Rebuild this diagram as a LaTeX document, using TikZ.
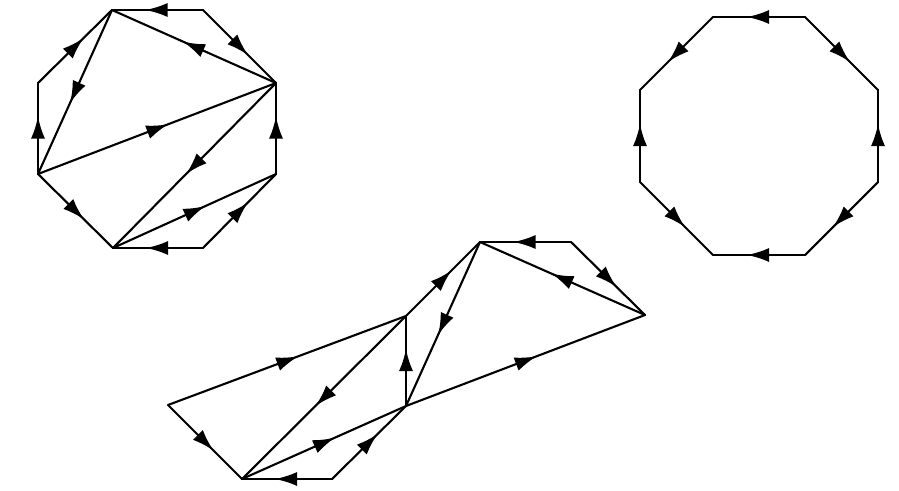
\documentclass[tikz,border=0pt]{standalone}
\usetikzlibrary{decorations.markings,arrows.meta}
\tikzset{
  marked/.style={postaction={decorate},decoration={markings,
    mark=at position 0.5 with {\arrow[xshift=12pt]{Latex[length=22pt,width=14pt]}}}}
}
\begin{document}
\begin{tikzpicture}[x=1pt,y=-1pt,line width=2.1pt,line cap=round,line join=round]
    \useasboundingbox (0,0) rectangle (899,490);
    % left octagon with its diagonals
    \path (112,10)  coordinate (a1) (203,10)  coordinate (a2)
          (276,83)  coordinate (a3) (276,174) coordinate (a4)
          (203,248) coordinate (a5) (113,248) coordinate (a6)
          (38,174)  coordinate (a7) (38,83)   coordinate (a8);
    \foreach \s/\t in {a2/a1,a2/a3,a4/a3,a5/a4,a5/a6,a7/a6,a7/a8,a8/a1,
                       a3/a1,a1/a7,a7/a3,a3/a6,a6/a4}
        \draw[marked] (\s) -- (\t);
    % right octagon
    \path (713,17)  coordinate (b1) (805,17)  coordinate (b2)
          (878,90)  coordinate (b3) (878,182) coordinate (b4)
          (805,255) coordinate (b5) (713,255) coordinate (b6)
          (640,182) coordinate (b7) (640,90)  coordinate (b8);
    \foreach \s/\t in {b2/b1,b1/b8,b2/b3,b4/b3,b4/b5,b5/b6,b7/b6,b7/b8}
        \draw[marked] (\s) -- (\t);
    % the triangles glued again along other edges
    \path (480,242) coordinate (c1) (571,242) coordinate (c2)
          (645,315) coordinate (c3) (406,316) coordinate (c4)
          (406,406) coordinate (c5) (168,405) coordinate (c6)
          (242,479) coordinate (c7) (332,479) coordinate (c8);
    \foreach \s/\t in {c2/c1,c2/c3,c3/c1,c1/c5,c4/c1,c5/c3,c6/c4,c4/c7,
                       c5/c4,c6/c7,c8/c7,c8/c5,c7/c5}
        \draw[marked] (\s) -- (\t);
\end{tikzpicture}
\end{document}
